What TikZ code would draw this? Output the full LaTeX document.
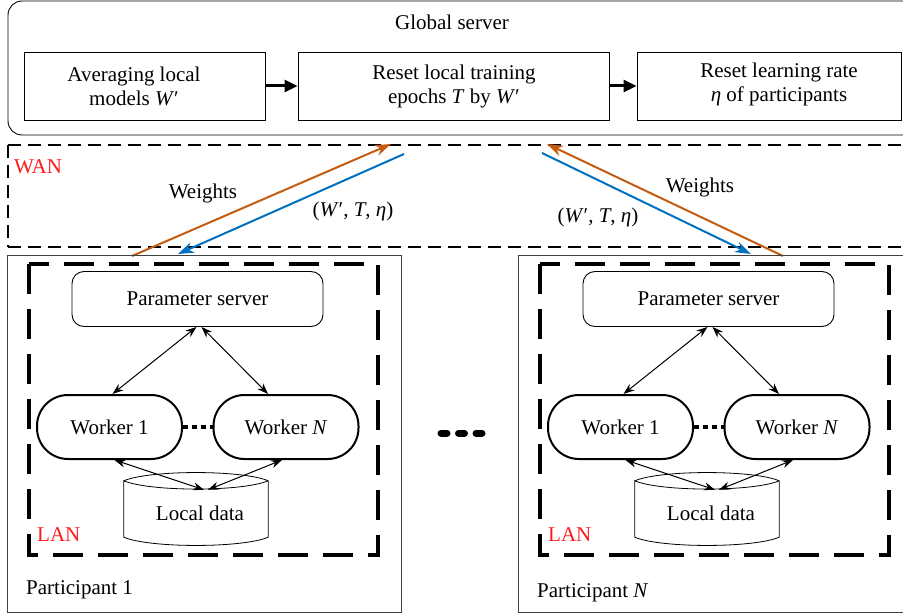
\documentclass[tikz,border=0pt]{standalone}
\usepackage{fontspec}
\setmainfont{Liberation Serif}
\usetikzlibrary{arrows.meta,calc}
\definecolor{worange}{HTML}{C55A11}
\definecolor{wblue}{HTML}{0070C0}
\definecolor{lanred}{HTML}{FF1A1A}
\begin{document}
\begin{tikzpicture}[x=1pt,y=-1pt,
  font=\fontsize{21}{24}\selectfont,
  tbox/.style={draw, line width=0.9pt, minimum height=68pt, inner sep=0pt},
  bigarrow/.style={line width=3pt, -{Triangle[length=13pt,width=12pt]}},
  wandash/.style={line width=2pt, dash pattern=on 13pt off 7pt},
  landash/.style={line width=4pt, dash pattern=on 30pt off 15pt},
  pbox/.style={draw=black!75, line width=1pt, minimum width=394pt, minimum height=357pt, inner sep=0pt},
  psbox/.style={draw, line width=0.9pt, rounded corners=12pt, minimum width=251pt, minimum height=55pt, inner sep=0pt},
  worker/.style={draw, line width=2pt, rounded corners=31pt, minimum width=145pt, minimum height=64pt, inner sep=0pt},
  datanode/.style={minimum width=144pt, minimum height=72pt, inner sep=0pt},
  warrow/.style={line width=2pt, -{Stealth[length=16pt,width=11pt]}},
  larrow/.style={line width=1pt, {Stealth[length=11pt,width=8pt]}-{Stealth[length=11pt,width=8pt]}},
  redlabel/.style={text=lanred, anchor=west, inner sep=0pt},
  plabel/.style={anchor=west, inner sep=0pt}
]
\useasboundingbox (0,0) rectangle (903,615);

% Global server
\draw[line width=0.9pt, rounded corners=14pt] (8,1) rectangle (925,135);
\node (gstitle) at (452,22) {Global server};
\node[tbox, minimum width=241pt] (b1) at (144.5,86) {};
\node[tbox, minimum width=311pt] (b2) at (453.5,86) {};
\node[tbox, minimum width=264pt] (b3) at (769,86) {};
\node[align=center] (b1t) at (134,86) {Averaging local\\models \textit{W}′};
\node[align=center] (b2t) at (454,86) {Reset local training\\epochs \textit{T} by \textit{W}′};
\node[align=center] (b3t) at (779,84) {Reset learning rate\\\textit{η} of participants};
\draw[bigarrow] (b1.east) -- (b2.west);
\draw[bigarrow] (b2.east) -- (b3.west);

% WAN
\draw[wandash] (8,145) -- (915,145);
\draw[wandash] (8,247) -- (915,247);
\draw[wandash] (8,145) -- (8,247);
\node[redlabel] (wan) at (14,167) {WAN};

% WAN arrows
\coordinate (o1s) at (132,256);
\coordinate (o1e) at (391,144);
\coordinate (c1s) at (404,154);
\coordinate (c1e) at (178,254);
\coordinate (o2s) at (783,256);
\coordinate (o2e) at (547,144);
\coordinate (c2s) at (542,153);
\coordinate (c2e) at (751,254);
\draw[warrow, worange] (o1s) -- (o1e);
\draw[warrow, wblue] (c1s) -- (c1e);
\draw[warrow, worange] (o2s) -- (o2e);
\draw[warrow, wblue] (c2s) -- (c2e);
\node (wl1) at (203,193) {Weights};
\node (pl1) at (353,211) {(\textit{W}′, \textit{T}, \textit{η})};
\node (wl2) at (700,187) {Weights};
\node (pl2) at (598,217) {(\textit{W}′, \textit{T}, \textit{η})};

% middle dots
\draw[line width=7pt, line cap=round, dash pattern=on 6pt off 11.5pt] (441,433) -- (483,433);

% participants
\foreach \s/\sx/\lab/\ly in {A/0/1/590, B/511/\textit{N}/593} {
\begin{scope}[xshift=\sx pt]
  \node[pbox] (p\s) at (204,433.5) {};
  \draw[landash] (29,264) rectangle (378,555);
  \node[redlabel] (lan\s) at (37,535) {LAN};
  \node[plabel] (pt\s) at (26,\ly) {Participant \lab};
  \node[psbox] (ps\s) at (197.5,299) {Parameter server};
  \node[worker] (wa\s) at (109.5,427) {Worker 1};
  \node[worker] (wn\s) at (286,427) {Worker \textit{N}};
  \draw[line width=4pt, dash pattern=on 5pt off 4pt] (wa\s.east) -- (wn\s.west);
  \node[datanode] (ld\s) at (196,509) {};
  \node (ldt\s) at (200,513) {Local data};
  \draw[line width=0.8pt]
    ([shift={(0,8)}]ld\s.north west) -- ([shift={(0,-8)}]ld\s.south west)
    .. controls ([shift={(26,3)}]ld\s.south west) and ([shift={(-26,3)}]ld\s.south east) .. ([shift={(0,-8)}]ld\s.south east)
    -- ([shift={(0,8)}]ld\s.north east)
    .. controls ([shift={(-26,-3)}]ld\s.north east) and ([shift={(26,-3)}]ld\s.north west) .. ([shift={(0,8)}]ld\s.north west)
    .. controls ([shift={(26,19)}]ld\s.north west) and ([shift={(-26,19)}]ld\s.north east) .. ([shift={(0,8)}]ld\s.north east);
  \draw[larrow] ([xshift=-1pt]ps\s.south) -- ([xshift=3pt]wa\s.north);
  \draw[larrow] ([xshift=4pt]ps\s.south) -- ([xshift=-18pt]wn\s.north);
  \draw[larrow] ([xshift=5pt]wa\s.south) -- ([shift={(8,17)}]ld\s.north);
  \draw[larrow] ([xshift=-4pt]wn\s.south) -- ([shift={(12,17)}]ld\s.north);
\end{scope}
}
\end{tikzpicture}
\end{document}
